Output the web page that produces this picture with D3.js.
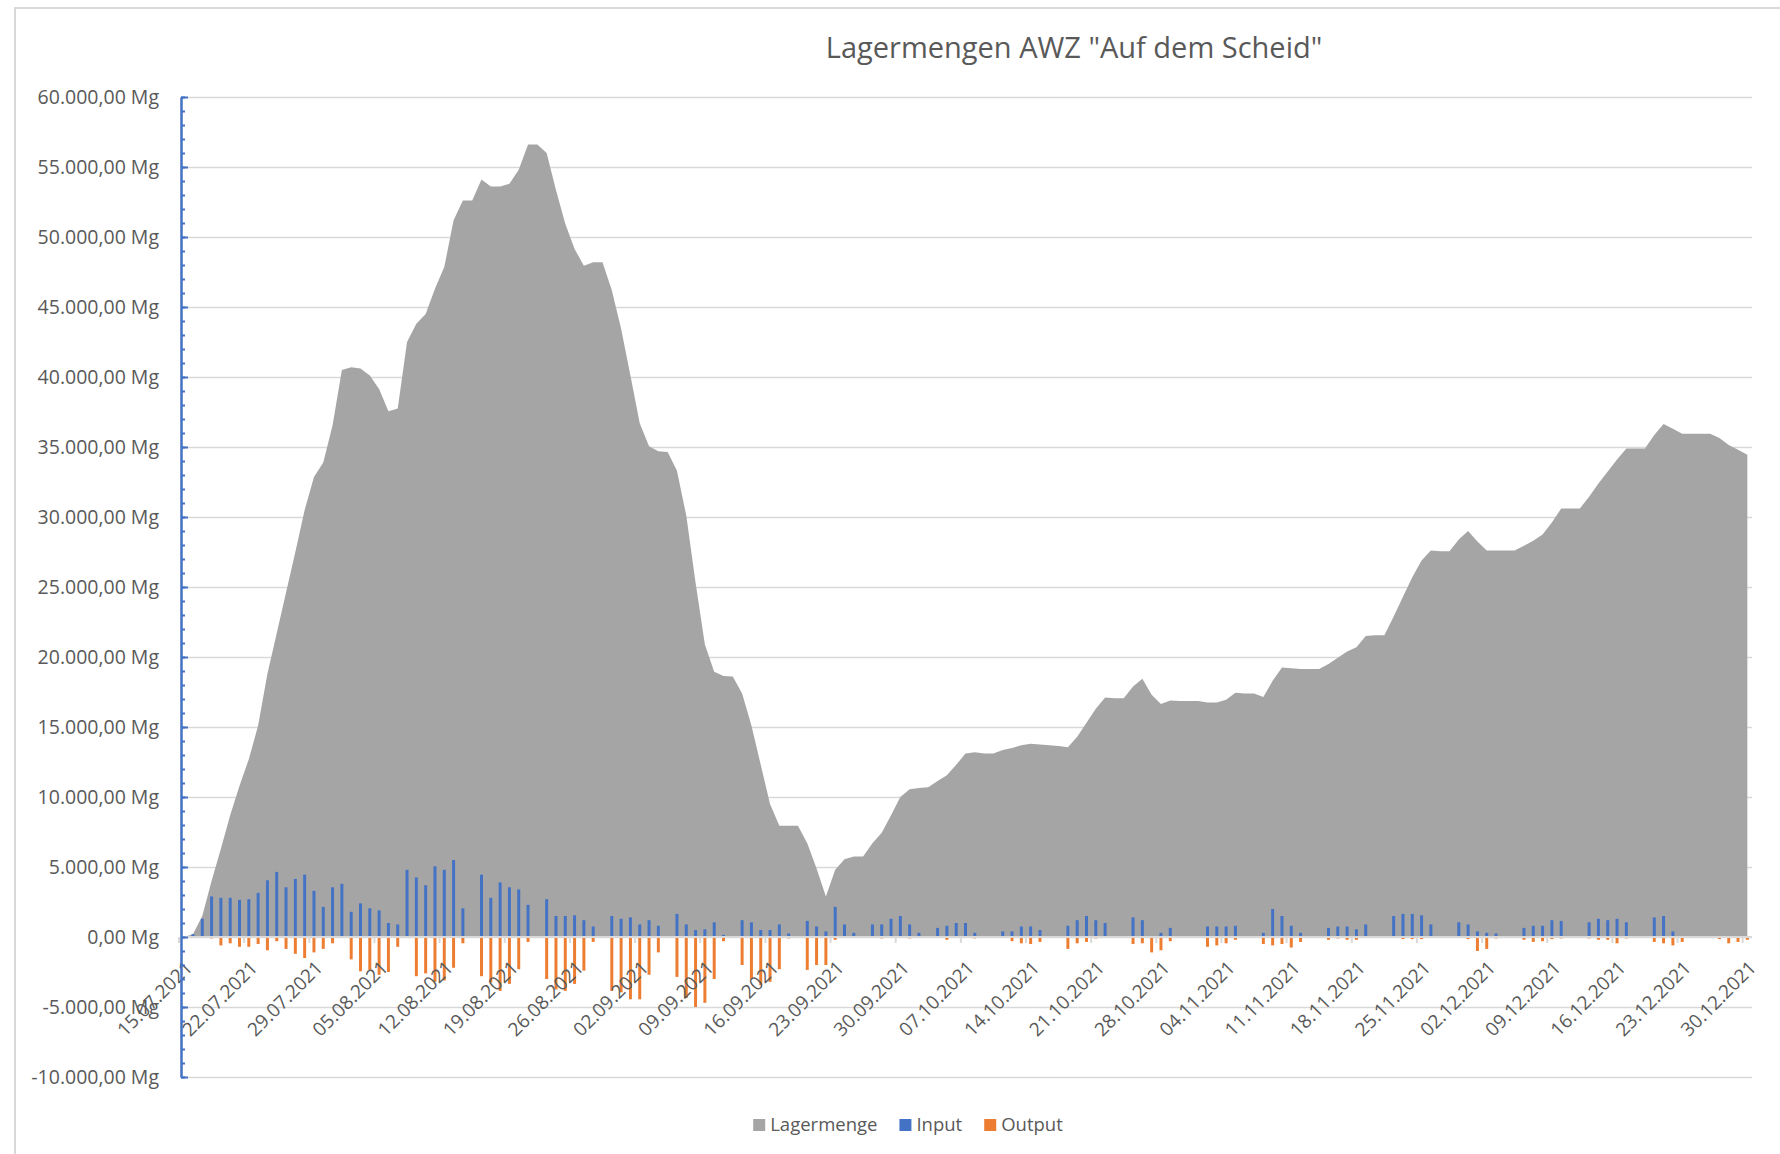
<!DOCTYPE html>
<html>
<head>
<meta charset="utf-8">
<title>Lagermengen AWZ</title>
<script src="https://cdn.jsdelivr.net/npm/d3@7"></script>
<style>
    body { margin: 0; background: #ffffff; }
    svg text { font-family: "Open Sans", sans-serif; fill: #595959; }
</style>
</head>
<body>
<div id="chart"></div>
<script>
// one value per day, 15.07.2021 - 30.12.2021
var firstDay = new Date(2021, 6, 15);
var lastDay = new Date(2021, 11, 30);

var xLabels = ["15.07.2021", "22.07.2021", "29.07.2021", "05.08.2021", "12.08.2021",
    "19.08.2021", "26.08.2021", "02.09.2021", "09.09.2021", "16.09.2021", "23.09.2021",
    "30.09.2021", "07.10.2021", "14.10.2021", "21.10.2021", "28.10.2021", "04.11.2021",
    "11.11.2021", "18.11.2021", "25.11.2021", "02.12.2021", "09.12.2021", "16.12.2021",
    "23.12.2021", "30.12.2021"];

var yTicks = [-10000, -5000, 0, 5000, 10000, 15000, 20000, 25000, 30000,
    35000, 40000, 45000, 50000, 55000, 60000];

var seriesNames = ["Lagermenge", "Input", "Output"];
var seriesColors = ["#a5a5a5", "#4472c4", "#ed7d31"];

// Lagermenge (Mg), rows of 7 days starting 15.07.
var lagermenge = [
    0, 200, 1500, 4000, 6300, 8700, 10800,
    12700, 15100, 18800, 21700, 24600, 27500, 30500,
    32850, 33900, 36550, 40500, 40700, 40600, 40100,
    39150, 37550, 37750, 42500, 43800, 44500, 46300,
    47850, 51200, 52600, 52600, 54100, 53600, 53600,
    53800, 54800, 56600, 56600, 56000, 53350, 50950,
    49150, 47950, 48200, 48200, 46200, 43450, 40100,
    36700, 35050, 34700, 34650, 33300, 30100, 25300,
    20900, 18950, 18650, 18600, 17400, 15100, 12300,
    9500, 7950, 7950, 7950, 6700, 4900, 2900,
    4800, 5550, 5750, 5750, 6700, 7450, 8700,
    10000, 10550, 10650, 10700, 11150, 11550, 12300,
    13100, 13200, 13100, 13100, 13350, 13500, 13700,
    13800, 13750, 13700, 13650, 13550, 14300, 15300,
    16300, 17100, 17050, 17050, 17900, 18450, 17300,
    16650, 16900, 16850, 16850, 16850, 16750, 16750,
    16950, 17450, 17400, 17400, 17150, 18300, 19250,
    19200, 19150, 19150, 19150, 19500, 19950, 20400,
    20700, 21500, 21550, 21550, 22900, 24300, 25700,
    26900, 27600, 27550, 27550, 28400, 29000, 28250,
    27600, 27600, 27600, 27600, 27950, 28300, 28750,
    29600, 30600, 30600, 30600, 31450, 32400, 33250,
    34100, 34900, 34900, 34900, 35850, 36650, 36300,
    35950, 35950, 35950, 35950, 35650, 35150, 34800,
    34450
];

var input = [
    0, 200, 1300, 2900, 2800, 2800, 2650,
    2700, 3150, 4050, 4650, 3550, 4150, 4450,
    3300, 2150, 3550, 3800, 1800, 2400, 2050,
    1900, 1000, 900, 4800, 4250, 3700, 5050,
    4800, 5500, 2050, 0, 4450, 2800, 3900,
    3550, 3400, 2300, 0, 2700, 1500, 1500,
    1550, 1200, 750, 0, 1500, 1300, 1400,
    900, 1200, 800, 0, 1650, 900, 500,
    550, 1050, 150, 0, 1200, 1050, 500,
    500, 900, 250, 0, 1150, 750, 400,
    2150, 900, 300, 0, 900, 900, 1300,
    1500, 900, 300, 0, 650, 800, 1000,
    1000, 300, 0, 0, 400, 400, 750,
    750, 500, 0, 0, 800, 1200, 1500,
    1200, 1000, 0, 0, 1400, 1200, 0,
    300, 650, 0, 0, 0, 750, 750,
    750, 800, 0, 0, 300, 2000, 1500,
    800, 300, 0, 0, 650, 750, 750,
    550, 900, 0, 0, 1500, 1650, 1650,
    1550, 900, 0, 0, 1050, 900, 400,
    300, 250, 0, 0, 650, 800, 800,
    1200, 1150, 0, 0, 1050, 1300, 1200,
    1300, 1050, 0, 0, 1400, 1500, 400,
    0, 0, 0, 0, 0, 0, 0,
    0
];

var output = [
    0, 0, 0, -100, -600, -450, -700,
    -700, -500, -950, -300, -850, -1200, -1500,
    -1100, -850, -450, 0, -1600, -2450, -2350,
    -2700, -2500, -700, 0, -2800, -2600, -3200,
    -3100, -2200, -450, 0, -2800, -3250, -3850,
    -3350, -2300, -350, 0, -3000, -3750, -3850,
    -3350, -2400, -350, 0, -3850, -3950, -4450,
    -4450, -2700, -1100, 0, -2850, -4350, -5000,
    -4700, -3000, -300, 0, -2000, -3000, -3450,
    -3200, -2300, -100, 0, -2350, -2000, -2000,
    -200, 0, 0, 0, -50, -100, 0,
    0, -100, 0, 0, -50, -200, 0,
    0, -100, 0, 0, 0, -300, -450,
    -500, -350, 0, 0, -850, -450, -350,
    -100, 0, 0, 0, -500, -450, -1100,
    -950, -300, 0, 0, 0, -700, -600,
    -450, -200, 0, 0, -500, -600, -500,
    -750, -350, 0, 0, -200, -100, -200,
    -200, 0, 0, 0, 0, -150, -150,
    -150, 0, 0, 0, 0, -150, -1000,
    -850, -100, 0, 0, -200, -350, -300,
    -150, -100, 0, 0, -100, -200, -200,
    -450, -100, 0, 0, -350, -450, -600,
    -350, 0, 0, 0, -150, -450, -350,
    -200
];

window.onload = init;

function init() {
    drawChart();
}

function drawChart() {
    var w = 1780;
    var h = 1154;
    var left = 181, right = 1752, top = 97, bottom = 1077;

    var fmtDay = d3.timeFormat("%d.%m.%Y");
    var days = d3.timeDay.range(firstDay, d3.timeDay.offset(lastDay, 1)).map(fmtDay);

    var de = d3.formatLocale({ decimal: ",", thousands: ".", grouping: [3], currency: ["", " €"], minus: "-" });
    var fmtY = de.format(",.2f");

    var svg = d3.select("#chart")
        .append("svg")
        .attr("width", w)
        .attr("height", h);

    var x = d3.scaleBand()
        .domain(days)
        .range([left - 2, right]);

    var y = d3.scaleLinear()
        .domain([-10000, 60000])
        .range([bottom, top]);

    var bw = x.bandwidth();
    function cx(i) { return x(days[i]) + bw / 2; }

    // chart border (left and top edges visible)
    svg.append("path")
        .attr("d", "M15,1154 V8 H1780")
        .attr("fill", "none")
        .attr("stroke", "#d9d9d9")
        .attr("stroke-width", 2);

    // title
    svg.append("text")
        .attr("x", 1074)
        .attr("y", 58)
        .attr("text-anchor", "middle")
        .style("font-size", "29px")
        .text("Lagermengen AWZ \"Auf dem Scheid\"");

    // gridlines
    var grid = svg.append("g")
        .attr("transform", "translate(" + left + ",0)")
        .call(d3.axisLeft(y).tickValues(yTicks).tickSize(-(right - left)).tickFormat(""));
    grid.select(".domain").remove();
    grid.selectAll("line")
        .attr("stroke", "#d9d9d9")
        .attr("stroke-width", 1.5);

    // Lagermenge area
    var area = d3.area()
        .x(function(d, i) { return cx(i); })
        .y0(y(0))
        .y1(function(d) { return y(d); });

    svg.append("path")
        .datum(lagermenge)
        .attr("d", area)
        .attr("fill", seriesColors[0]);

    // Input bars
    var barW = bw * 0.32;
    svg.selectAll("rect.input")
        .data(input.map(function(v, i) { return { i: i, v: v }; }).filter(function(d) { return d.v !== 0; }))
        .enter()
        .append("rect")
        .attr("class", "input")
        .attr("x", function(d) { return cx(d.i) - barW / 2; })
        .attr("y", function(d) { return y(d.v); })
        .attr("width", barW)
        .attr("height", function(d) { return y(0) - y(d.v); })
        .attr("fill", seriesColors[1]);

    // Output bars (negative)
    svg.selectAll("rect.output")
        .data(output.map(function(v, i) { return { i: i, v: v }; }).filter(function(d) { return d.v !== 0; }))
        .enter()
        .append("rect")
        .attr("class", "output")
        .attr("x", function(d) { return cx(d.i) - barW / 2; })
        .attr("y", y(0))
        .attr("width", barW)
        .attr("height", function(d) { return y(d.v) - y(0); })
        .attr("fill", seriesColors[2]);

    // category axis at zero with weekly ticks
    svg.append("line")
        .attr("x1", left)
        .attr("x2", right)
        .attr("y1", y(0))
        .attr("y2", y(0))
        .attr("stroke", "#d9d9d9")
        .attr("stroke-width", 2);

    svg.selectAll("line.xtick")
        .data(xLabels)
        .enter()
        .append("line")
        .attr("class", "xtick")
        .attr("x1", function(d) { return x(d); })
        .attr("x2", function(d) { return x(d); })
        .attr("y1", y(0))
        .attr("y2", y(0) + 6)
        .attr("stroke", "#d9d9d9")
        .attr("stroke-width", 2);

    svg.selectAll("text.xlabel")
        .data(xLabels)
        .enter()
        .append("text")
        .attr("class", "xlabel")
        .attr("text-anchor", "end")
        .attr("transform", function(d) {
            return "translate(" + (x(d) + bw / 2 + 10) + "," + (y(0) + 32) + ") rotate(-45)";
        })
        .style("font-size", "19px")
        .text(function(d) { return d; });

    // value axis: minor ticks, major ticks, labels
    var minor = d3.range(-10000, 60001, 1000);
    svg.append("g")
        .attr("class", "yaxis")
        .attr("transform", "translate(" + left + ",0)")
        .call(d3.axisRight(y).tickValues(minor).tickSize(4).tickSizeOuter(0).tickFormat(""));
    svg.append("g")
        .attr("class", "yaxis")
        .attr("transform", "translate(" + left + ",0)")
        .call(d3.axisRight(y).tickValues(yTicks).tickSize(7).tickSizeOuter(0).tickFormat(""));
    svg.selectAll(".yaxis .domain, .yaxis .tick line")
        .attr("stroke", "#4472c4")
        .attr("stroke-width", 2);

    var labels = svg.append("g")
        .attr("transform", "translate(" + left + ",0)")
        .call(d3.axisLeft(y).tickValues(yTicks).tickSize(0).tickPadding(22)
            .tickFormat(function(d) { return fmtY(d) + " Mg"; }));
    labels.select(".domain").remove();
    labels.selectAll("text")
        .style("font-size", "19.5px")
        .style("font-family", "\"Open Sans\", sans-serif")
        .attr("fill", "#595959");

    // legend
    var legend = svg.append("g");
    var lx = 0;
    seriesNames.forEach(function(name, i) {
        var item = legend.append("g").attr("transform", "translate(" + lx + ",0)");
        item.append("rect")
            .attr("x", 0)
            .attr("y", -6)
            .attr("width", 12)
            .attr("height", 12)
            .attr("fill", seriesColors[i]);
        var t = item.append("text")
            .attr("x", 17)
            .attr("y", 0)
            .attr("dy", "0.35em")
            .style("font-size", "18.5px")
            .text(name);
        lx += 17 + t.node().getComputedTextLength() + 22;
    });
    lx -= 22;
    legend.attr("transform", "translate(" + (908 - lx / 2) + ",1125)");
}
</script>
</body>
</html>
